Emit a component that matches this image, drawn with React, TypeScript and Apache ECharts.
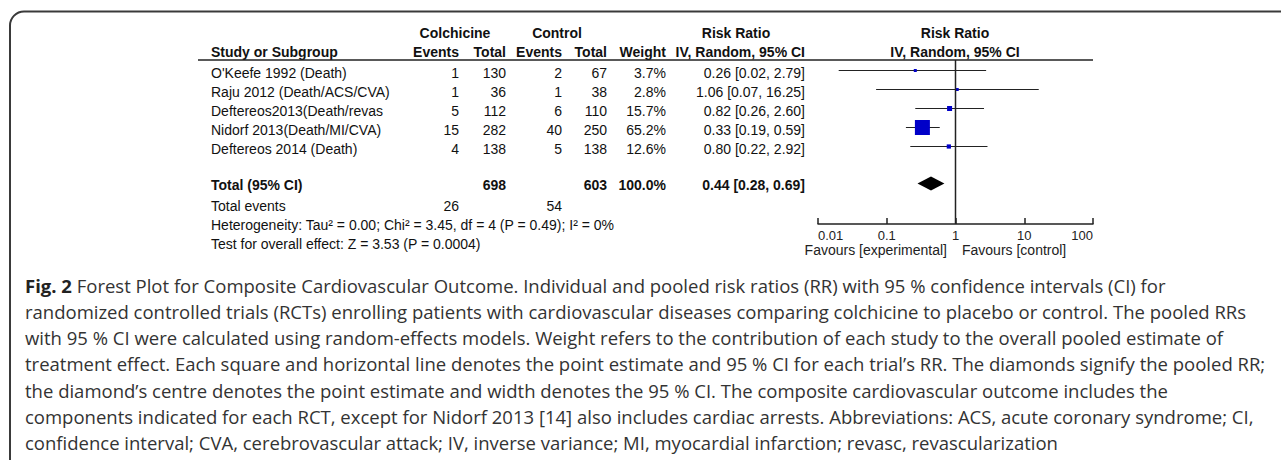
import React, { useEffect, useRef } from "react";
import * as echarts from "echarts";

// ---------------- data ----------------
const studies = [
  "O'Keefe 1992 (Death)",
  "Raju 2012 (Death/ACS/CVA)",
  "Deftereos2013(Death/revas",
  "Nidorf 2013(Death/MI/CVA)",
  "Deftereos 2014 (Death)",
];
const colchicineEvents = [1, 1, 5, 15, 4];
const colchicineTotal = [130, 36, 112, 282, 138];
const controlEvents = [2, 1, 6, 40, 5];
const controlTotal = [67, 38, 110, 250, 138];
const weights = [3.7, 2.8, 15.7, 65.2, 12.6];
const riskRatio = [0.26, 1.06, 0.82, 0.33, 0.8];
const ciLower = [0.02, 0.07, 0.26, 0.19, 0.22];
const ciUpper = [2.79, 16.25, 2.6, 0.59, 2.92];

const pooledTotals = [698, 603];
const pooledWeight = 100.0;
const pooledRR = [0.44, 0.28, 0.69];
const totalEvents = [26, 54];
const heterogeneityText =
  "Heterogeneity: Tau\u00b2 = 0.00; Chi\u00b2 = 3.45, df = 4 (P = 0.49); I\u00b2 = 0%";
const overallEffectText = "Test for overall effect: Z = 3.53 (P = 0.0004)";
const axisTickLabels = ["0.01", "0.1", "1", "10", "100"];
const favoursLabels = ["Favours [experimental]", "Favours [control]"];

const captionLines = [
  "{b|Fig. 2} Forest Plot for Composite Cardiovascular Outcome. Individual and pooled risk ratios (RR) with 95 % confidence intervals (CI) for",
  "randomized controlled trials (RCTs) enrolling patients with cardiovascular diseases comparing colchicine to placebo or control. The pooled RRs",
  "with 95 % CI were calculated using random-effects models. Weight refers to the contribution of each study to the overall pooled estimate of",
  "treatment effect. Each square and horizontal line denotes the point estimate and 95 % CI for each trial\u2019s RR. The diamonds signify the pooled RR;",
  "the diamond\u2019s centre denotes the point estimate and width denotes the 95 % CI. The composite cardiovascular outcome includes the",
  "components indicated for each RCT, except for Nidorf 2013 [14] also includes cardiac arrests. Abbreviations: ACS, acute coronary syndrome; CI,",
  "confidence interval; CVA, cerebrovascular attack; IV, inverse variance; MI, myocardial infarction; revasc, revascularization",
];

// ---------------- layout ----------------
const W = 1281;
const H = 460;
const FONT = "'Liberation Sans', Arial, sans-serif";
const CAP_FONT = "'Open Sans', 'Noto Sans', sans-serif";
const CAP_SIZE = 18.5;
const INK = "#111";
const ROW0 = 72.5;
const PITCH = 19;
const GRID_TOP = 60;
const GRID_BOTTOM_Y = 224;
const Y_MIN = (GRID_TOP - ROW0) / PITCH;
const Y_MAX = (GRID_BOTTOM_Y - ROW0) / PITCH;
const COLX = [211, 459, 506, 562, 607, 666, 805];
const COL_ALIGN = ["left", "right", "right", "right", "right", "right", "right"];

const fmt2 = (v: number) => v.toFixed(2);
const rrText = (m: number, l: number, h: number) => `${fmt2(m)} [${fmt2(l)}, ${fmt2(h)}]`;

type TRow = { pos: number; bold: boolean; cells: string[] };
const tableRows: TRow[] = [
  ...studies.map((s, i) => ({
    pos: i,
    bold: false,
    cells: [
      s,
      String(colchicineEvents[i]),
      String(colchicineTotal[i]),
      String(controlEvents[i]),
      String(controlTotal[i]),
      weights[i].toFixed(1) + "%",
      rrText(riskRatio[i], ciLower[i], ciUpper[i]),
    ],
  })),
  {
    pos: 5.9,
    bold: true,
    cells: [
      "Total (95% CI)",
      "",
      String(pooledTotals[0]),
      "",
      String(pooledTotals[1]),
      pooledWeight.toFixed(1) + "%",
      rrText(pooledRR[0], pooledRR[1], pooledRR[2]),
    ],
  },
  { pos: 7, bold: false, cells: ["Total events", String(totalEvents[0]), "", String(totalEvents[1]), "", "", ""] },
  { pos: 8, bold: false, cells: [heterogeneityText, "", "", "", "", "", ""] },
  { pos: 9, bold: false, cells: [overallEffectText, "", "", "", "", "", ""] },
];

function txt(text: string, x: number, y: number, align: string, bold = false, size = 14, fill = INK, family = FONT) {
  return {
    type: "text",
    x,
    y,
    silent: true,
    style: {
      text,
      fill,
      fontSize: size,
      fontFamily: family,
      fontWeight: bold ? "bold" : "normal",
      textAlign: align,
      align,
      textVerticalAlign: "middle",
      verticalAlign: "middle",
    },
  };
}

function buildOption() {
  const headerY1 = 33;
  const headerY2 = 52;
  const graphics: any[] = [
    {
      type: "rect",
      silent: true,
      shape: { x: 10, y: 11.5, width: 1400, height: 700, r: [14, 0, 0, 0] },
      style: { fill: "none", stroke: "#3a3a3a", lineWidth: 2 },
    },
    txt("Colchicine", 455, headerY1, "center", true),
    txt("Control", 557, headerY1, "center", true),
    txt("Risk Ratio", 736, headerY1, "center", true),
    txt("Risk Ratio", 955, headerY1, "center", true),
    txt("Study or Subgroup", 211, headerY2, "left", true),
    txt("Events", 459, headerY2, "right", true),
    txt("Total", 506, headerY2, "right", true),
    txt("Events", 562, headerY2, "right", true),
    txt("Total", 607, headerY2, "right", true),
    txt("Weight", 666, headerY2, "right", true),
    txt("IV, Random, 95% CI", 805, headerY2, "right", true),
    txt("IV, Random, 95% CI", 955, headerY2, "center", true),
    {
      type: "line",
      silent: true,
      shape: { x1: 198, y1: 60, x2: 1093, y2: 60 },
      style: { stroke: "#222", lineWidth: 1.5 },
    },
    txt(favoursLabels[0], 947, 250, "right", false, 14, "#222"),
    txt(favoursLabels[1], 962, 250, "left", false, 14, "#222"),
    ...captionLines.map((line, i) => ({
      type: "text",
      x: 25,
      y: 285 + 26.3 * i,
      silent: true,
      style: {
        text: line,
        fill: "#333",
        fontSize: CAP_SIZE,
        fontFamily: CAP_FONT,
        textVerticalAlign: "middle",
        verticalAlign: "middle",
        rich: {
          b: { fontWeight: "bold", fontSize: CAP_SIZE, fontFamily: CAP_FONT, fill: "#222" },
        },
      },
    })),
  ];

  const forestData = studies.map((_, i) => [riskRatio[i], i, ciLower[i], ciUpper[i], weights[i]]);

  return {
    animation: false,
    grid: { left: 818, right: W - 1093, top: GRID_TOP, bottom: H - GRID_BOTTOM_Y, containLabel: false },
    xAxis: {
      type: "log",
      logBase: 10,
      min: 0.01,
      max: 100,
      position: "bottom",
      axisLine: { show: true, onZero: false, lineStyle: { color: "#222", width: 1.5 } },
      axisTick: { show: true, inside: true, length: 6, lineStyle: { color: "#222", width: 1.5 } },
      splitLine: { show: false },
      minorTick: { show: false },
      axisLabel: {
        formatter: (_v: number, i: number) => axisTickLabels[i],
        fontFamily: FONT,
        fontSize: 13,
        color: "#222",
        margin: 5,
        alignMinLabel: "left",
        alignMaxLabel: "right",
      },
    },
    yAxis: { type: "value", inverse: true, min: Y_MIN, max: Y_MAX, show: false },
    graphic: graphics,
    series: [
      {
        type: "line",
        silent: true,
        symbol: "none",
        data: [
          [1, Y_MIN],
          [1, Y_MAX],
        ],
        lineStyle: { color: "#222", width: 1.5 },
      },
      {
        type: "custom",
        silent: true,
        data: tableRows.map((r) => [1, r.pos]),
        renderItem: (params: any, api: any) => {
          const r = tableRows[params.dataIndex];
          const y = api.coord([1, api.value(1)])[1];
          return {
            type: "group",
            children: r.cells
              .map((c, k) => (c ? txt(c, COLX[k], y, COL_ALIGN[k], r.bold) : null))
              .filter(Boolean),
          };
        },
      },
      {
        type: "custom",
        silent: true,
        data: forestData,
        renderItem: (_params: any, api: any) => {
          const row = api.value(1);
          const c = api.coord([api.value(0), row]);
          const l = api.coord([api.value(2), row]);
          const h = api.coord([api.value(3), row]);
          const s = Math.max(3, 15 * Math.pow(api.value(4) / 65.2, 0.77));
          const yy = c[1] - 2;
          return {
            type: "group",
            children: [
              { type: "line", shape: { x1: l[0], y1: yy, x2: h[0], y2: yy }, style: { stroke: "#222", lineWidth: 1 } },
              { type: "rect", shape: { x: c[0] - s / 2, y: yy - s / 2, width: s, height: s }, style: { fill: "#0000c8" } },
            ],
          };
        },
      },
      {
        type: "custom",
        silent: true,
        data: [[pooledRR[0], 5.9, pooledRR[1], pooledRR[2]]],
        renderItem: (_params: any, api: any) => {
          const row = api.value(1);
          const c = api.coord([api.value(0), row]);
          const l = api.coord([api.value(2), row]);
          const h = api.coord([api.value(3), row]);
          const yy = c[1] - 1;
          const hh = 7;
          return {
            type: "polygon",
            shape: { points: [[l[0], yy], [c[0], yy - hh], [h[0], yy], [c[0], yy + hh]] },
            style: { fill: "#000" },
          };
        },
      },
    ],
  };
}

export default function App() {
  const ref = useRef<HTMLDivElement>(null);
  useEffect(() => {
    document.body.style.margin = "0";
    if (!ref.current) return;
    const chart = echarts.init(ref.current, undefined, { renderer: "svg" });
    chart.setOption(buildOption() as any);
    return () => chart.dispose();
  }, []);
  return <div ref={ref} style={{ width: W, height: H, background: "#fff" }} />;
}
